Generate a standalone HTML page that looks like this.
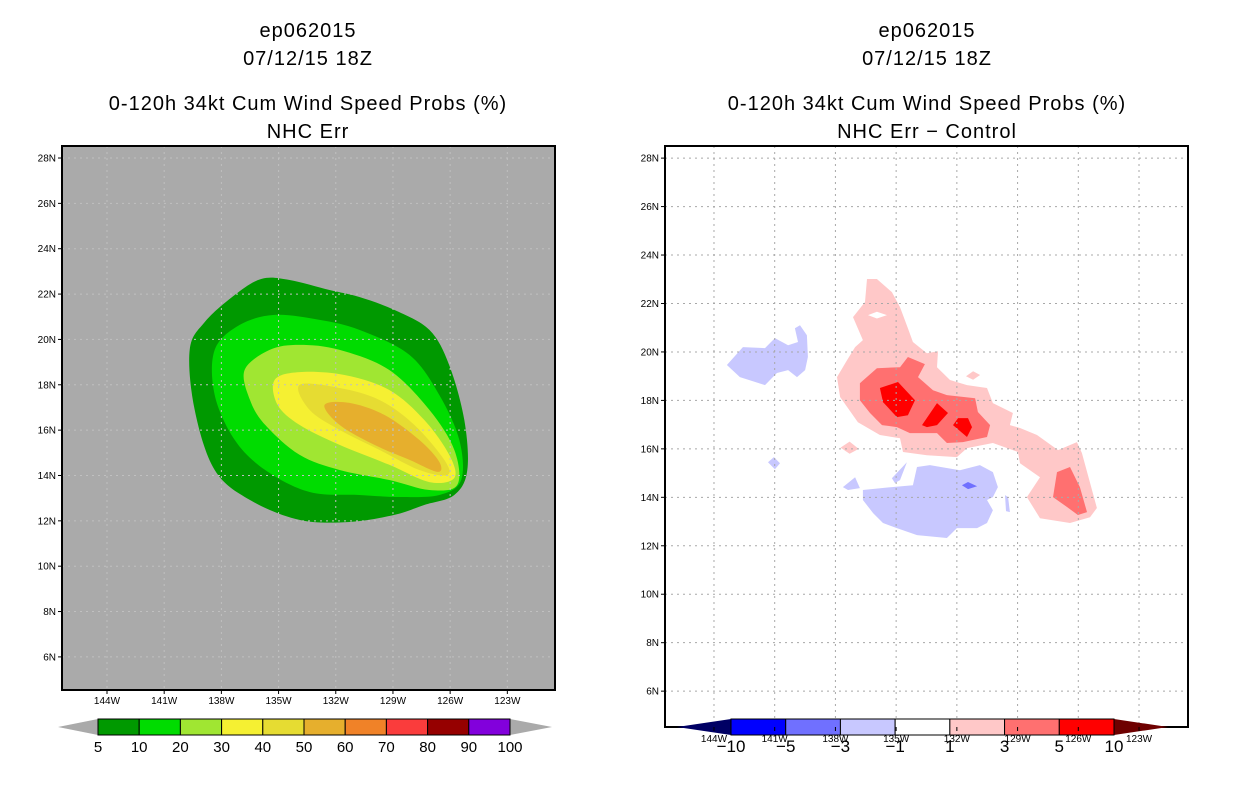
<!DOCTYPE html>
<html><head><meta charset="utf-8"><style>
html,body{margin:0;padding:0;background:#fff;}
svg{display:block;font-family:"Liberation Sans",sans-serif;}
.t{font-size:20px;fill:#000;text-anchor:middle;letter-spacing:1px}
.tk{font-size:10px;fill:#000}
</style></head><body>
<svg id="s" width="1236" height="800" viewBox="0 0 1236 800">
<text class="t" x="308" y="37">ep062015</text>
<text class="t" x="308" y="65">07/12/15 18Z</text>
<text class="t" x="308" y="110">0-120h 34kt Cum Wind Speed Probs (%)</text>
<text class="t" x="308" y="138">NHC Err</text>
<text class="t" x="927" y="37">ep062015</text>
<text class="t" x="927" y="65">07/12/15 18Z</text>
<text class="t" x="927" y="110">0-120h 34kt Cum Wind Speed Probs (%)</text>
<text class="t" x="927" y="138">NHC Err − Control</text>
</svg>
<script>
const latTicks=[6,8,10,12,14,16,18,20,22,24,26,28];
const lonTicks=[144,141,138,135,132,129,126,123];
const leftLevels=["5","10","20","30","40","50","60","70","80","90","100"];
const leftColors=["#009900","#00dc00","#a0e632","#f5f032","#e6dc32","#e6af2d","#f08228","#fa3c3c","#960000","#8200dc"];
const rightLevels=["−10","−5","−3","−1","1","3","5","10"];
const rightColors=["#0000ff","#7070ff","#c8c8ff","#ffffff","#ffc8c8","#ff7070","#ff0000"];
// left contour polygons [lonW, latN]
const prob5=[[139.66,19.54],[138.87,20.77],[137.3,21.96],[135.89,22.67],[134.42,22.62],[132.33,22.18],[130.76,21.87],[128.93,21.3],[127.09,20.42],[126.05,18.87],[125.26,16.45],[125.1,14.24],[125.78,13.14],[127.36,12.7],[128.93,12.26],[131.28,11.95],[133.9,12.04],[136.5,12.92],[138.35,14.24],[139.4,16.89]];
const prob10=[[138.35,19.54],[137.04,20.64],[135.21,21.08],[132.85,20.86],[130.76,20.42],[128.14,19.32],[126.57,17.55],[125.52,15.57],[125.42,13.8],[126.57,13.14],[128.66,13.05],[130.76,13.14],[133.37,13.27],[135.7,14.24],[137.3,15.57],[138.35,17.55]];
const prob20=[[136.78,18.65],[135.47,19.54],[133.9,19.76],[131.8,19.54],[129.19,18.65],[127.09,16.89],[125.78,15.13],[125.63,13.58],[127.09,13.36],[129.19,13.8],[131.8,14.24],[133.9,14.91],[135.7,16.23],[136.5,17.33]];
const prob30=[[135.21,18.21],[133.9,18.56],[131.54,18.43],[129.19,17.77],[127.36,16.45],[126.05,14.91],[125.78,13.89],[127.09,13.71],[129.19,14.47],[131.8,15.35],[133.9,16.23],[135.05,17.11]];
const prob40=[[133.9,17.99],[131.8,17.86],[129.71,17.33],[127.88,16.23],[126.31,14.69],[126.15,14.02],[127.62,14.24],[129.71,15.13],[131.8,16.01],[133.37,16.89]];
const prob50=[[132.59,17.11],[131.28,17.2],[129.45,16.67],[127.62,15.57],[126.57,14.6],[126.67,14.16],[128.14,14.69],[129.97,15.35],[131.8,16.23]];
// right difference polygons
const pos1main=[[136.44,23.01],[135.95,23.01],[135.21,22.47],[134.81,21.85],[134.42,20.98],[134.17,20.41],[133.48,19.95],[132.93,20.03],[132.98,19.37],[132.34,18.84],[131.5,18.63],[130.51,18.51],[130.22,17.89],[129.23,17.48],[129.38,16.98],[128.88,16.86],[128.04,16.57],[127.0,15.95],[126.07,16.28],[125.82,15.83],[125.08,13.56],[125.42,13.18],[126.41,12.94],[127.89,13.14],[128.54,14.01],[127.89,14.83],[128.88,15.41],[128.98,15.87],[130.22,16.24],[131.5,16.03],[132.0,15.66],[133.48,15.74],[134.66,15.87],[134.81,16.44],[135.8,16.57],[136.89,17.1],[137.77,18.14],[137.92,18.96],[137.43,19.66],[137.03,20.2],[136.64,20.49],[137.13,21.44],[136.54,22.06]];
const pos1hole=[[136.39,21.52],[135.95,21.66],[135.45,21.52],[135.95,21.38]];
const pos1b=[[131.55,19.0],[131.2,19.2],[130.85,19.05],[131.2,18.85]];
const pos1c=[[137.75,16.05],[137.3,16.3],[136.85,16.0],[137.3,15.8]];
const pos3a=[[136.79,18.71],[135.95,19.33],[134.81,19.37],[134.42,19.79],[133.58,19.5],[133.92,18.96],[133.18,18.42],[132.49,18.22],[131.1,18.09],[130.96,17.52],[130.36,16.98],[130.51,16.49],[131.7,16.28],[132.49,16.24],[132.98,16.65],[134.32,16.65],[134.96,16.9],[135.7,16.98],[136.29,17.48],[136.79,18.01]];
const pos3b=[[127.05,15.04],[126.41,15.25],[125.92,14.42],[125.57,13.39],[126.02,13.27],[126.56,13.6],[127.25,14.01]];
const pos5a=[[135.8,18.51],[134.91,18.76],[134.07,18.01],[134.42,17.39],[134.96,17.31],[135.65,17.93]];
const pos5b=[[133.72,16.98],[132.98,17.89],[132.44,17.48],[132.98,16.98],[133.48,16.9]];
const pos5c=[[132.19,16.98],[131.94,17.27],[131.45,17.27],[131.25,16.9],[131.5,16.49]];
const neg1a=[[143.36,19.46],[142.57,20.2],[141.48,20.16],[140.99,20.57],[140.34,20.28],[139.85,20.41],[140.0,20.98],[139.75,21.1],[139.41,20.69],[139.36,19.79],[139.5,19.25],[139.9,18.96],[140.34,19.25],[140.89,19.13],[141.48,18.63],[142.72,18.96]];
const neg1b=[[136.64,14.3],[135.21,14.42],[134.17,14.5],[133.97,15.25],[133.33,15.33],[131.85,15.12],[130.86,15.33],[130.22,15.04],[129.97,14.42],[130.22,14.01],[130.51,13.89],[130.22,13.47],[130.51,12.94],[131.0,12.73],[132.0,12.73],[132.49,12.32],[133.97,12.44],[134.96,12.73],[135.65,12.94],[136.14,13.35],[136.64,13.89]];
const neg1c=[[137.63,14.42],[137.03,14.83],[136.79,14.38],[137.38,14.3]];
const neg1d=[[135.21,14.79],[134.47,15.45],[134.81,14.71],[135.06,14.59]];
const neg1e=[[141.33,15.45],[141.04,15.66],[140.74,15.41],[140.99,15.16]];
const neg1f=[[129.62,14.09],[129.47,14.01],[129.38,13.39],[129.57,13.43]];
const neg3a=[[131.75,14.5],[131.45,14.63],[131.0,14.46],[131.45,14.34]];

const NS="http://www.w3.org/2000/svg";
const svg=document.getElementById('s');
function mk(tag,attrs,parent){const e=document.createElementNS(NS,tag);for(const k in attrs)e.setAttribute(k,attrs[k]);(parent||svg).appendChild(e);return e;}
const L={x0:62,x1:555,y0:146,y1:690,lonL:146.36,lonR:120.5,latB:4.54,latT:28.53};
const R={x0:665,x1:1188,y0:146,y1:727,lonL:146.42,lonR:120.58,latB:4.52,latT:28.5};
function xs(P,lon){return P.x0+(P.lonL-lon)/(P.lonL-P.lonR)*(P.x1-P.x0);}
function ys(P,lat){return P.y1-(lat-P.latB)/(P.latT-P.latB)*(P.y1-P.y0);}
function smoothPath(P,pts){const p=pts.map(q=>[xs(P,q[0]),ys(P,q[1])]);const n=p.length;let d=`M${p[0][0].toFixed(1)},${p[0][1].toFixed(1)}`;
 for(let i=0;i<n;i++){const a=p[(i-1+n)%n],b=p[i],c=p[(i+1)%n],e=p[(i+2)%n];
 const c1=[b[0]+(c[0]-a[0])/6,b[1]+(c[1]-a[1])/6],c2=[c[0]-(e[0]-b[0])/6,c[1]-(e[1]-b[1])/6];
 d+=`C${c1[0].toFixed(1)},${c1[1].toFixed(1)} ${c2[0].toFixed(1)},${c2[1].toFixed(1)} ${c[0].toFixed(1)},${c[1].toFixed(1)}`;}return d+'Z';}
function polyPath(P,pts){return 'M'+pts.map(q=>xs(P,q[0]).toFixed(1)+','+ys(P,q[1]).toFixed(1)).join('L')+'Z';}

// LEFT PANEL
let r=mk('rect',{x:L.x0,y:L.y0,width:L.x1-L.x0,height:L.y1-L.y0,fill:'#aaaaaa'});

const leftSets=[prob5,prob10,prob20,prob30,prob40,prob50];
leftSets.forEach((s,i)=>{const p=mk('path',{d:smoothPath(L,s),fill:leftColors[i]});
 
 });
function grid(P,col,name){const g=mk('g',{stroke:col,'stroke-width':1,'stroke-dasharray':'2,4',fill:'none'});
 
 lonTicks.forEach(v=>mk('line',{x1:xs(P,v),x2:xs(P,v),y1:P.y0,y2:P.y1},g));
 latTicks.forEach(v=>mk('line',{x1:P.x0,x2:P.x1,y1:ys(P,v),y2:ys(P,v)},g));}
grid(L,'#c0c0c0','left-gridlines');
r=mk('rect',{x:L.x0,y:L.y0,width:L.x1-L.x0,height:L.y1-L.y0,fill:'none',stroke:'#000','stroke-width':2});

function axes(P,pref,lonY){latTicks.forEach(v=>{const y=ys(P,v);mk('line',{x1:P.x0-4,x2:P.x0,y1:y,y2:y,stroke:'#000'});
 const t=mk('text',{x:P.x0-6,y:y+3.5,'text-anchor':'end',class:'tk'});t.textContent=v+'N';
 });
 lonTicks.forEach(v=>{const x=xs(P,v);mk('line',{x1:x,x2:x,y1:P.y1,y2:P.y1+4,stroke:'#000'});
 const t=mk('text',{x:x,y:lonY,'text-anchor':'middle',class:'tk'});t.textContent=v+'W';
 });}
axes(L,'left',704);

function colorbar(x0,x1,y0,y1,tl,tr,cols,labels,pref,labY,fs,triL,triR){
 const w=(x1-x0)/cols.length;
 let p=mk('path',{d:`M${tl},${(y0+y1)/2}L${x0},${y0}L${x0},${y1}Z`,fill:triL});
 
 p=mk('path',{d:`M${tr},${(y0+y1)/2}L${x1},${y0}L${x1},${y1}Z`,fill:triR});
 
 cols.forEach((c,i)=>{const b=mk('rect',{x:x0+i*w,y:y0,width:w,height:y1-y0,fill:c,stroke:'#000','stroke-width':1});
 });
 labels.forEach((l,i)=>{const t=mk('text',{x:x0+i*w,y:labY,'text-anchor':'middle','font-size':fs});t.textContent=l;
 });}
colorbar(98,510,719,735,58,552,leftColors,leftLevels,'left',752,15,'#aaaaaa','#aaaaaa');

// RIGHT PANEL
r=mk('rect',{x:R.x0,y:R.y0,width:R.x1-R.x0,height:R.y1-R.y0,fill:'#fff'});

const rightShapes=[[neg1a,2],[neg1b,2],[neg1c,2],[neg1d,2],[neg1e,2],[neg1f,2],[neg3a,1],[pos1main,4],[pos1hole,3],[pos1b,4],[pos1c,4],[pos3a,5],[pos3b,5],[pos5a,6],[pos5b,6],[pos5c,6]];
rightShapes.forEach((sh,i)=>{const p=mk('path',{d:polyPath(R,sh[0]),fill:rightColors[sh[1]]});
 
 });
grid(R,'#a8a8a8','right-gridlines');
r=mk('rect',{x:R.x0,y:R.y0,width:R.x1-R.x0,height:R.y1-R.y0,fill:'none',stroke:'#000','stroke-width':2});

colorbar(731,1114,719,735,677,1168,rightColors,rightLevels,'right',752,17,'#000064','#6e0000');
axes(R,'right',742);
</script>
</body></html>
